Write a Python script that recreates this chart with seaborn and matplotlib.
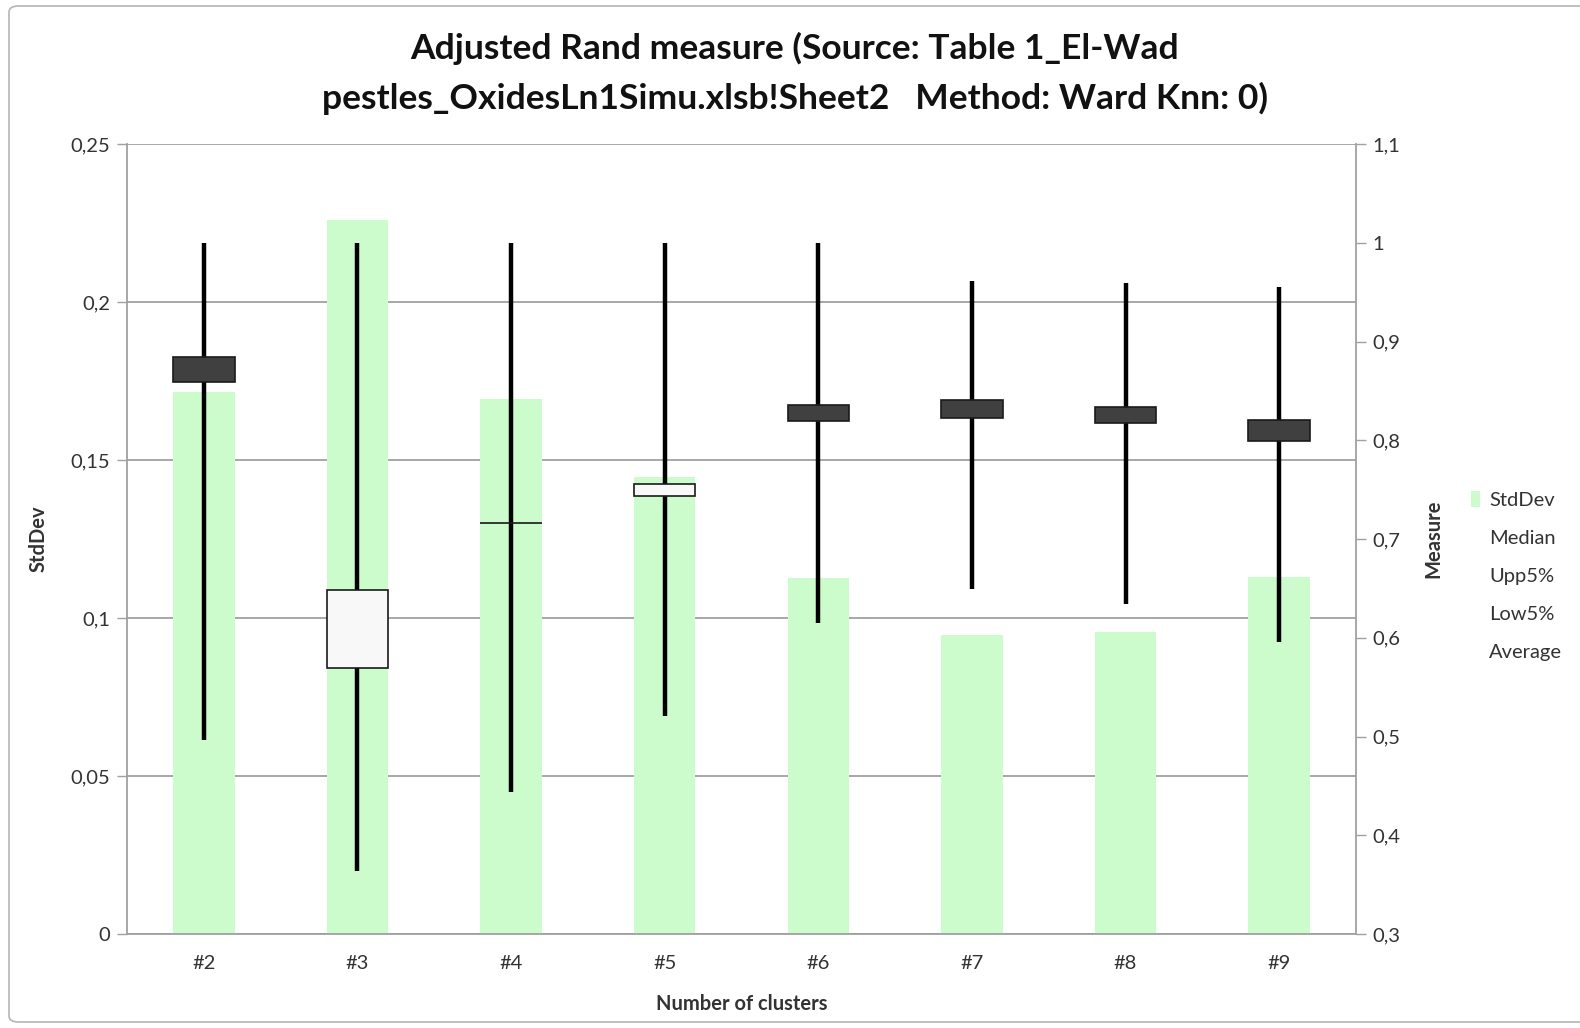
import numpy as np
import pandas as pd
import matplotlib
matplotlib.use("Agg")
import matplotlib.pyplot as plt
import seaborn as sns
from matplotlib.patches import FancyBboxPatch, Patch
from matplotlib.lines import Line2D
from matplotlib.ticker import FuncFormatter, FixedLocator

# data
clusters = ["#2", "#3", "#4", "#5", "#6", "#7", "#8", "#9"]
stdev = [0.1716, 0.226, 0.1693, 0.1447, 0.1126, 0.0946, 0.0957, 0.1129]
median = [0.884, 0.569, 0.716, 0.744, 0.836, 0.841, 0.834, 0.821]
upp5 = [1.0, 1.0, 1.0, 1.0, 1.0, 0.961, 0.959, 0.955]
low5 = [0.496, 0.364, 0.444, 0.521, 0.615, 0.649, 0.634, 0.596]
average = [0.859, 0.648, 0.716, 0.756, 0.8195, 0.823, 0.817, 0.799]

GREEN = "#ccfbcc"
GRID = "#a0a0a0"
TXT = "#333333"
FS = 14.5

sns.set_style("white")
plt.rcParams["font.family"] = ["Lato", "DejaVu Sans"]

df = pd.DataFrame({"cluster": clusters, "StdDev": stdev})

fig = plt.figure(figsize=(15.8, 10.28), dpi=100)
ax = fig.add_axes([127 / 1580, 1 - 934 / 1028, (1356 - 127) / 1580, (934 - 144) / 1028])

# --- StdDev bars on the left axis ---
sns.barplot(data=df, x="cluster", y="StdDev", color=GREEN, saturation=1,
            width=0.4, linewidth=0, ax=ax, zorder=2)
ax.set_xlim(-0.5, len(clusters) - 0.5)
ax.set_ylim(0, 0.25)
ax.set_yticks(np.arange(0, 0.2501, 0.05))
ax.yaxis.grid(True, color=GRID, lw=1.3, zorder=0)
ax.set_axisbelow(True)

comma = FuncFormatter(lambda v, p: f"{v:g}".replace(".", ","))
ax.yaxis.set_major_formatter(comma)

# category boundaries as tick marks, labels at centres
ax.xaxis.set_minor_locator(FixedLocator(np.arange(-0.5, len(clusters), 1.0)))
ax.tick_params(axis="x", which="major", length=0, pad=15, labelsize=FS, labelcolor=TXT)
ax.tick_params(axis="x", which="minor", length=7, width=1, color=GRID, direction="out")
ax.tick_params(axis="y", length=7, width=1, color=GRID, direction="out", left=True,
               labelsize=FS, labelcolor=TXT, pad=5)

for s in ["top", "right"]:
    ax.spines[s].set_visible(False)
for s in ["left", "bottom"]:
    ax.spines[s].set_color(GRID)
    ax.spines[s].set_linewidth(1.3)

ax.set_xlabel("Number of clusters", fontsize=FS, fontweight="bold", color=TXT)
ax.xaxis.set_label_coords(0.5, -0.076)
ax.set_ylabel("StdDev", fontsize=FS, fontweight="bold", color=TXT)
ax.yaxis.set_label_coords(-0.064, 0.5)

# --- stock-style marks on the right axis ---
ax2 = ax.twinx()
xpos = np.arange(len(clusters))
ax2.vlines(xpos, low5, upp5, color="black", lw=3.2, zorder=2)
heights = np.array(average) - np.array(median)
box_colors = ["#f8f8f8" if h > 0 else "#404040" for h in heights]
ax2.bar(xpos, heights, bottom=median, width=0.4, color=box_colors,
        edgecolor="#1a1a1a", linewidth=1.2, zorder=3)
ax2.set_ylim(0.3, 1.1)
ax2.set_yticks(np.arange(0.3, 1.1001, 0.1))
ax2.yaxis.set_major_formatter(comma)
ax2.tick_params(axis="y", length=7, width=1, color=GRID, direction="out", right=True,
                labelsize=FS, labelcolor=TXT, pad=5)
for s in ["top", "left", "bottom"]:
    ax2.spines[s].set_visible(False)
ax2.spines["right"].set_color(GRID)
ax2.spines["right"].set_linewidth(1.3)
ax2.set_ylabel("Measure", fontsize=FS, fontweight="bold", color=TXT)
ax2.yaxis.set_label_coords(1.0545, 0.5)

# --- legend ---
handles = [Patch(facecolor=GREEN, edgecolor="none")] + \
          [Line2D([], [], color="none") for _ in range(4)]
labels = ["StdDev", "Median", "Upp5%", "Low5%", "Average"]
fig.legend(handles, labels, loc="center left", bbox_to_anchor=(1453 / 1580, 1 - 576 / 1028),
           frameon=False, fontsize=FS, handlelength=0.45, handleheight=0.9,
           handletextpad=0.45, labelspacing=0.98, labelcolor=TXT)

# --- title ---
fig.text(0.503, 1 - 48 / 1028, "Adjusted Rand measure (Source: Table 1_El-Wad",
         ha="center", va="center", fontsize=25.5, fontweight="bold", color="#111111")
fig.text(0.503, 1 - 98 / 1028, "pestles_OxidesLn1Simu.xlsb!Sheet2   Method: Ward Knn: 0)",
         ha="center", va="center", fontsize=25.5, fontweight="bold", color="#111111")

# chart area border
fig.patches.append(FancyBboxPatch((9 / 1580, 1 - 1022 / 1028), 1.2, 1016 / 1028,
                                  boxstyle="round,pad=0,rounding_size=0.006",
                                  transform=fig.transFigure, fill=False,
                                  ec="#b5b5b5", lw=1.2))

fig.savefig("out.png", dpi=100)
